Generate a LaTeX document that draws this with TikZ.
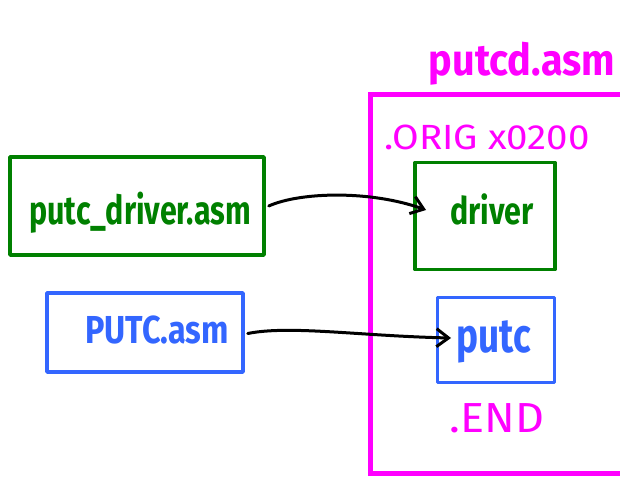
\documentclass[tikz,border=0pt]{standalone}
\usepackage{fontspec}
\setmainfont{Fira Sans}
\usetikzlibrary{arrows.meta}
\definecolor{dgreen}{RGB}{0,128,0}
\definecolor{pblue}{RGB}{51,102,255}
\definecolor{pmag}{RGB}{255,0,255}
\begin{document}
\begin{tikzpicture}[x=1pt,y=-1pt,
  greenbox/.style={draw=dgreen,line width=3.5pt,line join=round},
  bluebox/.style={draw=pblue,line width=3.5pt,line join=round},
  lbl/.style={inner sep=0pt,anchor=base},
  link/.style={draw=black,line width=3pt,line cap=round,-{Straight Barb[length=12pt,width=18pt,line width=3pt]}}]
\useasboundingbox (0,0) rectangle (620,478);
% the enclosing file putcd.asm (open at the right edge)
\draw[pmag,line width=5pt,line join=miter] (625,95) -- (370,95) -- (370,473) -- (625,473);
\node[lbl,text=pmag,font=\bfseries\fontsize{44}{44}\selectfont] (title) at (522,76) {\scalebox{0.9}[1]{putcd.asm}};
\node[lbl,text=pmag,font=\fontsize{35}{35}\selectfont] (orig) at (487,150) {\scalebox{1.1}[1]{.ORIG x0200}};
\node[lbl,text=pmag,font=\fontsize{42}{42}\selectfont] (end) at (497,432) {\scalebox{1.07}[1]{.END}};
% source files
\node[greenbox,minimum width=254pt,minimum height=98pt] (drvsrc) at (137,206) {};
\node[lbl,text=dgreen,font=\bfseries\fontsize{40}{40}\selectfont] at (140,224) {\scalebox{0.76}[1]{putc\_driver.asm}};
\node[bluebox,minimum width=196pt,minimum height=79pt] (putcsrc) at (145,332.5) {};
\node[lbl,text=pblue,font=\bfseries\fontsize{39}{39}\selectfont] at (157,343) {\scalebox{0.83}[1]{PUTC.asm}};
% sections of the combined file
\node[greenbox,minimum width=140pt,minimum height=107pt] (drv) at (485,216) {};
\node[lbl,text=dgreen,font=\bfseries\fontsize{38}{38}\selectfont] at (492,224) {\scalebox{0.8}[1]{driver}};
\node[bluebox,minimum width=117pt,minimum height=85pt] (putc) at (496,340) {};
\node[lbl,text=pblue,font=\bfseries\fontsize{48}{48}\selectfont] at (494,352) {\scalebox{0.77}[1]{putc}};
\coordinate (drvtip) at (426,210);
\coordinate (putctip) at (451,338);
\draw[link] ([xshift=3pt]drvsrc.east) .. controls (300,192) and (370,190) .. (drvtip);
\draw[link] ([xshift=3pt,yshift=-1pt]putcsrc.east) .. controls (290,325) and (360,336) .. (putctip);
\end{tikzpicture}
\end{document}
